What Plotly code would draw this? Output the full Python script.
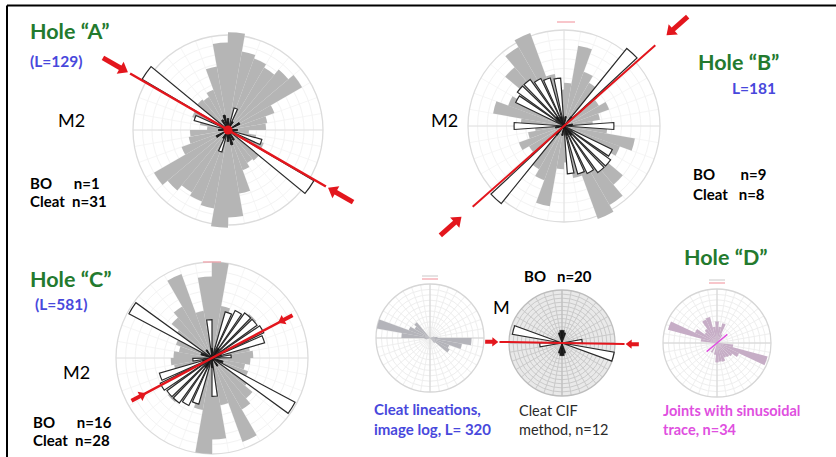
import math
import plotly.graph_objects as go

W, H = 836, 457

# ---------------- data ----------------
# 10-degree strike bins (0-180), mirrored to the opposite quadrant
bins18 = [5, 15, 25, 35, 45, 55, 65, 75, 85, 95, 105, 115, 125, 135, 145, 155, 165, 175]

# Hole A
a_cleat = [1.03, 0.84, 0.80, 0.76, 0.83, 0.90, 0.52, 0.42, 0.40, 0.22, 0.30, 0.40, 0.47, 0.42, 0.40, 0.45, 0.68, 0.92]
a_bo_theta = [125, 110, 20]
a_bo_r = [1.05, 0.37, 0.24]
a_core_theta = [0, 30, 60, 90, 150, 165]
a_core_r = [0.12, 0.10, 0.14, 0.10, 0.12, 0.16]
a_shmax = 120

# Hole B
b_cleat = [0.45, 0.85, 0.60, 0.52, 0.45, 0.42, 0.50, 0.38, 0.30, 0.45, 0.75, 0.62, 0.55, 0.80, 0.95, 1.03, 0.55, 0.38]
b_bo_theta = [43, 90, 120, 130, 140, 150, 160, 172]
b_bo_r = [1.04, 0.52, 0.56, 0.60, 0.60, 0.55, 0.52, 0.50]
b_core_theta = [10, 40, 80, 140, 160]
b_core_r = [0.10, 0.12, 0.09, 0.12, 0.10]
b_shmax = 48.5

# Hole C
c_cleat = [1.00, 0.55, 0.50, 0.55, 0.60, 0.48, 0.42, 0.40, 0.43, 0.40, 0.35, 0.40, 0.45, 0.55, 0.62, 0.93, 0.50, 0.85]
c_bo_theta = [20, 30, 40, 50, 60, 70, 85, 122, 176]
c_bo_r = [0.50, 0.55, 0.58, 0.58, 0.60, 0.57, 0.20, 0.98, 0.40]
c_core_theta = [0, 35, 70, 110, 145]
c_core_r = [0.10, 0.12, 0.10, 0.12, 0.10]
c_shmax = 62

# Hole D - cleat lineations from image log
lin_theta = [75, 85, 95, 105, 115, 125, 135, 255, 265, 275, 285, 295, 305, 315]
lin_r = [0.08, 0.14, 0.77, 0.60, 0.38, 0.42, 0.12, 0.08, 0.10, 0.53, 1.00, 0.42, 0.33, 0.38]

# Hole D - cleat CIF method and breakouts
cif_theta = [85, 105, 265, 285]
cif_r = [0.38, 1.00, 0.42, 0.95]
cif_bo_theta = [344, 355, 5, 16, 164, 175, 185, 196]
cif_bo_r = [0.20, 0.24, 0.24, 0.20, 0.20, 0.24, 0.24, 0.20]
cif_shmax = 91

# Hole D - joints with sinusoidal trace
jnt_theta = [0, 10, 20, 30, 100, 110, 120, 130, 140, 150, 160, 170, 180, 190, 210,
             280, 290, 300, 310, 320, 330, 340, 350]
jnt_r = [0.40, 0.30, 0.38, 0.18, 0.30, 0.97, 0.45, 0.35, 0.32, 0.30, 0.36, 0.35, 0.36, 0.22, 0.20,
         0.30, 0.94, 0.45, 0.28, 0.32, 0.48, 0.50, 0.30]
jnt_mean = 50

RED = "#e3161d"
GRAY = "#b5b5b5"
GREEN = "#237a2e"
BLUE = "#4848dc"
MAGENTA = "#e04fe0"
FONT = "Lato, 'Open Sans', sans-serif"
OUT = "#2b2b2b"


def mirror(theta, r):
    return list(theta) + [t + 180 for t in theta], list(r) + list(r)


def clamp(v):
    return min(1.0, max(0.0, v))


def box_domain(left, right, top, bottom):
    return dict(x=[clamp(left / W), clamp(right / W)], y=[clamp(1 - bottom / H), clamp(1 - top / H)])


# rose geometry: centre (px), radius of unit circle (px), outer range of the overlay
roses = {
    "A": dict(cx=228, cy=130, R=95, rmax=1.22, style="plain"),
    "B": dict(cx=564, cy=126, R=96, rmax=1.29, style="plain"),
    "C": dict(cx=212, cy=358, R=96, rmax=1.02, style="plain"),
    "LIN": dict(cx=430, cy=338, R=54, rmax=1.02, style="light"),
    "CIF": dict(cx=562, cy=343, R=53, rmax=1.22, style="dense"),
    "JNT": dict(cx=717, cy=343, R=54, rmax=1.02, style="light"),
}
order = ["A", "B", "C", "LIN", "CIF", "JNT"]

fig = go.Figure()
layout_polars = {}
n_polar = [0]


def new_polar(spec):
    n_polar[0] += 1
    pid = "polar" if n_polar[0] == 1 else f"polar{n_polar[0]}"
    layout_polars[pid] = spec
    return pid


def hidden_axes(rmax):
    return dict(
        angularaxis=dict(rotation=90, direction="clockwise", visible=False),
        radialaxis=dict(range=[0, rmax], visible=False),
        bgcolor="rgba(0,0,0,0)", barmode="overlay",
    )


# background polar subplots: rings, spokes and outline
for key in order:
    g = roses[key]
    st = g["style"]
    if st == "dense":
        bgc, ring_c, spoke_c, line_c = "#e9e9e9", "#cacaca", "#cacaca", "#bdbdbd"
        rings = [k / 13 for k in range(1, 13)]
    elif st == "light":
        bgc, ring_c, spoke_c, line_c = "rgba(0,0,0,0)", "#eeeeee", "#efefef", "#d6d6d6"
        rings = [k / 10 for k in range(1, 10)]
    else:
        bgc, ring_c, spoke_c, line_c = "rgba(0,0,0,0)", "#f3f3f3", "#f6f6f6", "#dcdcdc"
        rings = [k / 10 for k in range(1, 10)]
    R = g["R"]
    pid = new_polar(dict(
        domain=box_domain(g["cx"] - R, g["cx"] + R, g["cy"] - R, g["cy"] + R),
        bgcolor=bgc,
        angularaxis=dict(rotation=90, direction="clockwise", showticklabels=False, ticks="",
                         showline=True, linecolor=line_c, linewidth=1.3,
                         tickvals=list(range(0, 360, 10)), showgrid=True,
                         gridcolor=spoke_c, gridwidth=0.8),
        radialaxis=dict(range=[0, 1], showticklabels=False, ticks="", showline=False,
                        tickvals=rings, showgrid=True, gridcolor=ring_c, gridwidth=0.8),
    ))
    g["bg"] = pid
    major = "#bdbdbd" if st == "dense" else ("#d2d2d2" if st == "light" else "#e0e0e0")
    fig.add_trace(go.Scatterpolar(
        r=[1, 0, 1, None, 1, 0, 1], theta=[0, 0, 180, None, 90, 90, 270],
        mode="lines", line=dict(color=major, width=1), subplot=pid,
        hoverinfo="skip", showlegend=False))

# overlay polar subplots: the data
for key in order:
    g = roses[key]
    h = g["R"] * g["rmax"]
    spec = hidden_axes(g["rmax"])
    spec["domain"] = box_domain(g["cx"] - h, g["cx"] + h, g["cy"] - h, g["cy"] + h)
    g["fg"] = new_polar(spec)


def bars(theta, r, sub, fill, line_color=None, lw=0.0, width=10):
    fig.add_trace(go.Barpolar(
        r=r, theta=theta, width=width, subplot=sub,
        marker=dict(color=fill, line=dict(color=line_color or fill, width=lw)),
        hoverinfo="skip", showlegend=False))


def red_line(az, r_end, sub, width):
    fig.add_trace(go.Scatterpolar(
        r=[r_end, 0, r_end], theta=[az, az, az + 180], mode="lines",
        line=dict(color=RED, width=width), subplot=sub,
        hoverinfo="skip", showlegend=False))


def sector_bbox(s0, s1):
    pts = [(0.0, 0.0)]
    a = s0
    while a <= s1:
        pts.append((math.cos(math.radians(a)), math.sin(math.radians(a))))
        a += 0.25
    pts.append((math.cos(math.radians(s1)), math.sin(math.radians(s1))))
    xs = [p[0] for p in pts]
    ys = [p[1] for p in pts]
    return min(xs), min(ys), max(xs), max(ys)


def arrow_pair(key, az, r_tip, r_tail, width, head):
    """Inward-pointing stress arrows at both ends of the SHmax line, each in a narrow sector."""
    g = roses[key]
    rm = r_tail + 0.03
    Rpx = g["R"] * rm
    for end in (az, az + 180):
        ga = (90 - end) % 360
        s0, s1 = ga - 7, ga + 7
        x0, y0, x1, y1 = sector_bbox(s0, s1)
        spec = hidden_axes(rm)
        spec["sector"] = [s0, s1]
        spec["domain"] = box_domain(g["cx"] + Rpx * x0, g["cx"] + Rpx * x1,
                                    g["cy"] - Rpx * y1, g["cy"] - Rpx * y0)
        pid = new_polar(spec)
        r_head = r_tip + 0.707 * head / g["R"]
        fig.add_trace(go.Scatterpolar(
            r=[r_tail, r_head], theta=[end, end], mode="lines",
            line=dict(color=RED, width=width), subplot=pid,
            hoverinfo="skip", showlegend=False))
        fig.add_trace(go.Scatterpolar(
            r=[r_head], theta=[end], mode="markers", cliponaxis=False,
            marker=dict(symbol="triangle-up", size=head, angle=end + 180,
                        color=RED, line=dict(width=0)),
            subplot=pid, hoverinfo="skip", showlegend=False))


# Hole A
g = roses["A"]
t, r = mirror(bins18, a_cleat)
bars(t, r, g["fg"], GRAY)
t, r = mirror(a_bo_theta, a_bo_r)
bars(t, r, g["fg"], "white", OUT, 1.2, 9)
t, r = mirror(a_core_theta, a_core_r)
bars(t, r, g["fg"], "#1a1a1a", "#1a1a1a", 1, 8)
red_line(a_shmax, 1.19, g["fg"], 2.5)
fig.add_trace(go.Scatterpolar(r=[0], theta=[0], mode="markers", marker=dict(color=RED, size=9),
                              subplot=g["fg"], hoverinfo="skip", showlegend=False))
arrow_pair("A", a_shmax, 1.19, 1.52, 5, 12)

# Hole B
g = roses["B"]
t, r = mirror(bins18, b_cleat)
bars(t, r, g["fg"], GRAY)
t, r = mirror(b_bo_theta, b_bo_r)
bars(t, r, g["fg"], "white", OUT, 1.2, 8)
t, r = mirror(b_core_theta, b_core_r)
bars(t, r, g["fg"], "#1a1a1a", "#1a1a1a", 1, 8)
red_line(b_shmax, 1.27, g["fg"], 2)
arrow_pair("B", b_shmax, 1.40, 1.72, 5, 12)

# Hole C
g = roses["C"]
t, r = mirror(bins18, c_cleat)
bars(t, r, g["fg"], GRAY)
t, r = mirror(c_bo_theta, c_bo_r)
bars(t, r, g["fg"], "white", OUT, 1.2, 8)
t, r = mirror(c_core_theta, c_core_r)
bars(t, r, g["fg"], "#1a1a1a", "#1a1a1a", 1, 8)
red_line(c_shmax, 0.93, g["fg"], 2.5)
arrow_pair("C", c_shmax, 0.76, 0.95, 4, 9)

# Hole D - lineations
g = roses["LIN"]
bars(lin_theta, lin_r, g["fg"], "#b4b4ba")

# Hole D - CIF
g = roses["CIF"]
bars(cif_theta, cif_r, g["fg"], "white", OUT, 1.2, 10)
bars(cif_bo_theta, cif_bo_r, g["fg"], "#1a1a1a", "#1a1a1a", 0.5, 11)
red_line(cif_shmax, 1.18, g["fg"], 2)
arrow_pair("CIF", cif_shmax, 1.17, 1.45, 4, 8)

# Hole D - joints
g = roses["JNT"]
bars(jnt_theta, jnt_r, g["fg"], "#c6adc6", width=10)
fig.add_trace(go.Scatterpolar(
    r=[0.25, 0, 0.25], theta=[jnt_mean, jnt_mean, jnt_mean + 180], mode="lines",
    line=dict(color=MAGENTA, width=1.5), subplot=g["fg"], hoverinfo="skip", showlegend=False))

# ---------------- text ----------------
annotations = []
SP = "\u00a0"


def txt(s, x, y, size, color, bold=False, anchor="left"):
    s = s.replace(" ", SP)
    annotations.append(dict(
        text=f"<b>{s}</b>" if bold else s, x=x / W, y=1 - y / H, xref="paper", yref="paper",
        xanchor=anchor, yanchor="middle", showarrow=False,
        font=dict(family=FONT, size=size, color=color)))


txt("Hole “A”", 28, 31, 21.5, GREEN, True)
txt("(L=129)", 28, 61, 15.5, BLUE, True)
txt("M2", 56, 120, 18, "black")
txt("BO      n=1", 28, 183, 15, "black", True)
txt("Cleat  n=31", 28, 201, 15, "black", True)

txt("Hole “B”", 696, 62, 21.5, GREEN, True)
txt("L=181", 730, 88, 15.5, BLUE, True)
txt("M2", 429, 120, 18, "black")
txt("BO       n=9", 691, 174, 15, "black", True)
txt("Cleat   n=8", 691, 194, 15, "black", True)

txt("Hole “C”", 28, 279, 21.5, GREEN, True)
txt("(L=581)", 33, 304, 15.5, BLUE, True)
txt("M2", 61, 372, 18, "black")
txt("BO      n=16", 31, 422, 15, "black", True)
txt("Cleat  n=28", 31, 440, 15, "black", True)

txt("Hole “D”", 682, 257, 21.5, GREEN, True)
txt("BO   n=20", 522, 276, 15, "black", True)
txt("M", 491, 307, 18, "black")
txt("Cleat lineations,", 372, 409, 15, BLUE, True)
txt("image log, L= 320", 372, 429, 15, BLUE, True)
txt("Cleat CIF", 517, 410, 14.5, "#2a2a2a")
txt("method, n=12", 517, 429, 14.5, "#2a2a2a")
txt("Joints with sinusoidal", 661, 410, 14.5, MAGENTA, True)
txt("trace, n=34", 661, 429, 14.5, MAGENTA, True)

shapes = [
    dict(type="line", xref="paper", yref="paper", x0=7 / W, x1=1, y0=1 - 5.5 / H, y1=1 - 5.5 / H,
         line=dict(color="black", width=2)),
    dict(type="line", xref="paper", yref="paper", x0=7 / W, x1=7 / W, y0=0, y1=1 - 5.5 / H,
         line=dict(color="black", width=2)),
]

# small north-label dashes above the rose circles
for cx, cy, half in [(566, 22, 9), (212, 262, 9), (430, 279, 8), (717, 283, 8)]:
    shapes.append(dict(type="line", xref="paper", yref="paper",
                       x0=(cx - half) / W, x1=(cx + half) / W, y0=1 - cy / H, y1=1 - cy / H,
                       line=dict(color="#f4a0a8", width=1.2)))
for cx, cy, half in [(430, 276, 8), (717, 280, 8)]:
    shapes.append(dict(type="line", xref="paper", yref="paper",
                       x0=(cx - half) / W, x1=(cx + half) / W, y0=1 - cy / H, y1=1 - cy / H,
                       line=dict(color="#c8c8c8", width=1)))

fig.update_layout(
    width=W, height=H, autosize=False,
    margin=dict(l=0, r=0, t=0, b=0, pad=0),
    paper_bgcolor="white", plot_bgcolor="white",
    showlegend=False,
    annotations=annotations, shapes=shapes,
    **layout_polars,
)

fig.write_html("out.html", config={"displayModeBar": False})
